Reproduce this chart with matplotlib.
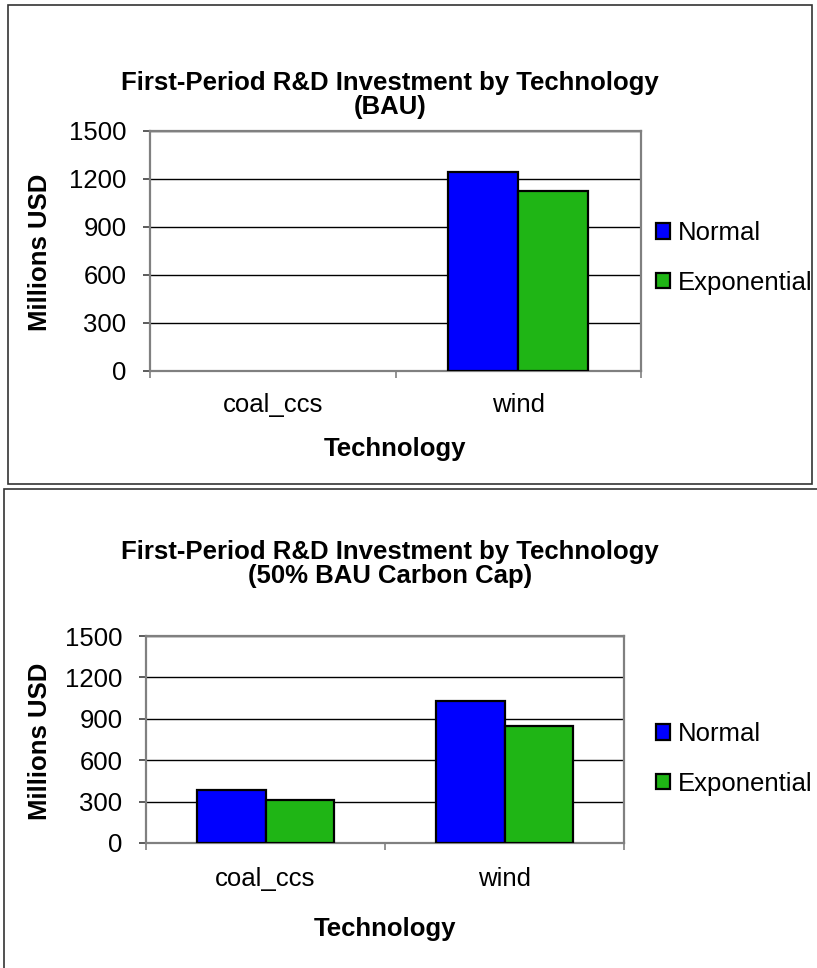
import matplotlib
matplotlib.use("Agg")
import matplotlib.pyplot as plt
from matplotlib.patches import Rectangle, Patch
import numpy as np

plt.rcParams['font.family'] = ['Liberation Sans', 'DejaVu Sans']

categories = ["coal_ccs", "wind"]
series_names = ["Normal", "Exponential"]
bau_normal = [0, 1245]
bau_exponential = [0, 1122]
cap_normal = [383, 1031]
cap_exponential = [308, 847]
y_ticks = [0, 300, 600, 900, 1200, 1500]
colors = ["#0000ff", "#1fb515"]

FS = 18.5
W, H = 817, 968
fig = plt.figure(figsize=(W / 100, H / 100), dpi=100)

def px_axes(left, top, right, bottom):
    return fig.add_axes([left / W, (H - bottom) / H, (right - left) / W, (bottom - top) / H])

# panel borders
fig.patches.append(Rectangle((8 / W, (H - 484) / H), (812 - 8) / W, (484 - 5) / H,
                             transform=fig.transFigure, fill=False, edgecolor="#333333", lw=1.2))
fig.patches.append(Rectangle((4 / W, (H - 990) / H), (830 - 4) / W, (990 - 489) / H,
                             transform=fig.transFigure, fill=False, edgecolor="#333333", lw=1.2))

def draw(ax, normal, expo, title, title_y, ylabel_y, leg_y, xlabelpad, ticpad):
    x = np.arange(len(categories))
    w = 0.285
    vals = [normal, expo]
    for i, v in enumerate(vals):
        bars = ax.bar(x + (i - 0.5) * w, v, width=w, color=colors[i], edgecolor="black",
                      linewidth=1.6, zorder=3)
        for b in bars:
            if b.get_height() == 0:
                b.set_linewidth(0)
    ax.set_xlim(-0.5, len(categories) - 0.5)
    ax.set_ylim(0, 1500)
    ax.set_yticks(y_ticks)
    ax.set_yticklabels([str(t) for t in y_ticks], fontsize=FS)
    ax.yaxis.grid(True, color="black", lw=1.0, zorder=0)
    ax.set_axisbelow(True)
    ax.set_xticks(x)
    ax.set_xticklabels(categories, fontsize=FS)
    ax.tick_params(axis="x", which="major", length=0, pad=ticpad)
    ax.set_xticks(np.arange(-0.5, len(categories)), minor=True)
    ax.tick_params(axis="x", which="minor", length=5, width=1.2, color="#808080", direction="out")
    ax.tick_params(axis="y", length=5, width=1.2, color="#404040", direction="out", pad=12)
    for s in ax.spines.values():
        s.set_color("#808080")
        s.set_linewidth(1.6)
    ax.set_xlabel("Technology", fontsize=FS, fontweight="bold", labelpad=xlabelpad)
    fig.text(390 / W, 1 - title_y / H, title, ha="center", va="center", fontsize=FS,
             fontweight="bold", linespacing=1.0)
    fig.text(40 / W, 1 - ylabel_y / H, "Millions USD", ha="center", va="center", rotation=90,
             fontsize=FS, fontweight="bold")
    handles = [Patch(facecolor=colors[i], edgecolor="black", linewidth=1.6, label=series_names[i])
               for i in range(2)]
    fig.legend(handles=handles, loc="center left", bbox_to_anchor=(646 / W, 1 - leg_y / H),
               frameon=False, fontsize=FS, handlelength=0.55, handleheight=0.55,
               handletextpad=0.3, labelspacing=1.0, borderaxespad=0)

ax1 = px_axes(150, 131, 641, 371)
draw(ax1, bau_normal, bau_exponential,
     "First-Period R&D Investment by Technology\n(BAU)", 95, 252, 258, 14, 16)

ax2 = px_axes(146, 636, 624, 843)
draw(ax2, cap_normal, cap_exponential,
     "First-Period R&D Investment by Technology\n(50% BAU Carbon Cap)", 564, 741, 759, 19, 17)

fig.savefig("out.png", dpi=100)
